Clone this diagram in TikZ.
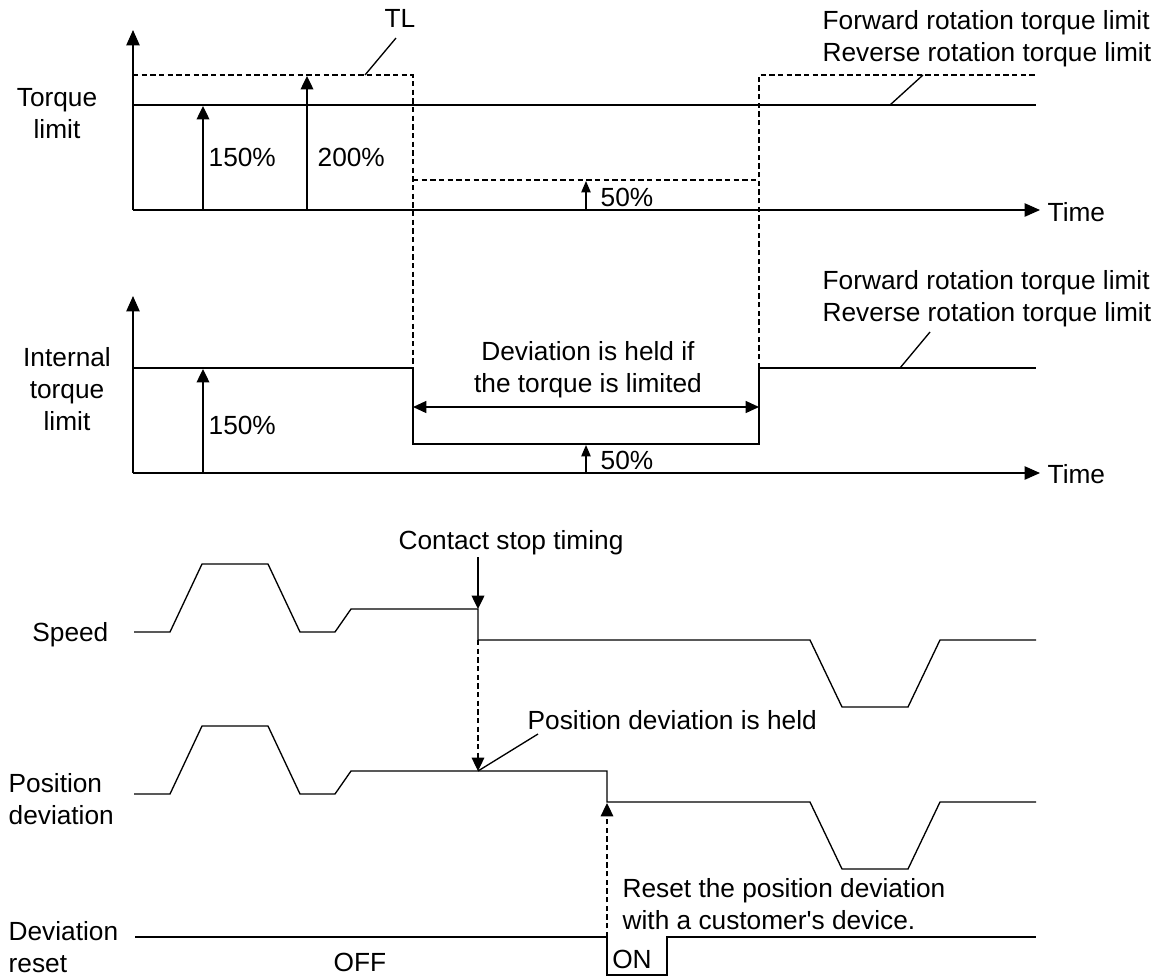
\documentclass[tikz,border=0pt]{standalone}
\usepackage{fontspec}
\newfontfamily\lsans{Liberation Sans}
\usetikzlibrary{arrows.meta}
\begin{document}
\begin{tikzpicture}[x=0.75pt,y=-0.75pt,
  line width=1pt,
  every node/.style={inner sep=0pt, font=\lsans\fontsize{19.7}{24}\selectfont},
  one/.style={text height=0.72em, text depth=0pt, yshift=-3.75pt},
  tip/.style={-{Triangle[length=10pt,width=9.5pt]}},
  axis/.style={-{Triangle[length=11.5pt,width=10pt]}},
  smalltip/.style={-{Triangle[length=8.5pt,width=7pt]}},
  both/.style={{Triangle[length=10pt,width=9pt]}-{Triangle[length=10pt,width=9pt]}},
  dline/.style={dash pattern=on 4pt off 2.5pt, line width=0.8pt},
]
\useasboundingbox (0,0) rectangle (1164,979);

% ---------- panel 1: torque limit ----------
\coordinate (o1) at (133,210);
\coordinate (y1) at (133,30);
\coordinate (x1) at (1040,210);
\draw[axis] (o1) -- (y1);
\draw[axis] (o1) -- (x1);
\node[one, anchor=west] (time1) at (1047,212) {Time};
\node[align=center] (lab1) at (57,114) {Torque\\limit};

\draw (133,105) -- (1036,105);
\draw[dline] (133,75) -- (413,75) -- (413,368);
\draw[dline] (413,180) -- (759,180);
\draw[dline] (759,368) -- (759,75) -- (1036,75);

\draw[tip] (203,210) -- (203,106);
\node[one, anchor=west] (p150a) at (208,157) {150\%};
\draw[tip] (307,210) -- (307,76);
\node[one, anchor=west] (p200) at (317,157) {200\%};
\draw[smalltip] (586,210) -- (586,181);
\node[one, anchor=west] (p50a) at (600,197) {50\%};

\node[one] (tl) at (400,18) {TL};
\coordinate (tlfoot) at (365,75);
\draw (tlfoot) -- (396,38);

\node[align=left, anchor=west] (frt1) at (822,39) {Forward rotation torque limit\\Reverse rotation torque limit};
\coordinate (lead1a) at (890,105);
\coordinate (lead1b) at (923,75);
\draw (lead1a) -- (lead1b);

% ---------- panel 2: internal torque limit ----------
\coordinate (o2) at (133,473);
\coordinate (y2) at (133,296);
\coordinate (x2) at (1040,473);
\draw[axis] (o2) -- (y2);
\draw[axis] (o2) -- (x2);
\node[one, anchor=west] (time2) at (1047,474) {Time};
\node[align=center] (lab2) at (67,389) {Internal\\torque\\limit};

\draw (133,368) -- (413,368) -- (413,444) -- (759,444) -- (759,368) -- (1036,368);
\draw[tip] (203,473) -- (203,369);
\node[one, anchor=west] (p150b) at (208,425) {150\%};
\draw[smalltip] (586,473) -- (586,445);
\node[one, anchor=west] (p50b) at (600,460) {50\%};

\coordinate (hl) at (413,407);
\coordinate (hr) at (759,407);
\draw[both] (hl) -- (hr);
\node[align=center] (held) at (588,370) {Deviation is held if\\the torque is limited};

\node[align=left, anchor=west] (frt2) at (822,299) {Forward rotation torque limit\\Reverse rotation torque limit};
\coordinate (lead2a) at (900,368);
\coordinate (lead2b) at (930,332);
\draw (lead2a) -- (lead2b);

% ---------- speed ----------
\node[one, anchor=east] (speed) at (109,632) {Speed};
\draw (134,632) -- (170,632) -- (202,564) -- (268,564) -- (300,632) -- (335,632)
      -- (351,609) -- (478,609) -- (478,640) -- (810,640) -- (842,707) -- (908,707)
      -- (940,640) -- (1036,640);
\node[one] (contact) at (511,540) {Contact stop timing};
\coordinate (cs) at (478,557);
\coordinate (ce) at (478,609);
\draw[tip] (cs) -- (ce);
\coordinate (sdrop) at (478,640);
\coordinate (phold) at (478,771);
\draw[dline, tip] (sdrop) -- (phold);

% ---------- position deviation ----------
\node[align=left, anchor=west] (poslab) at (8,799) {Position\\deviation};
\draw (134,794) -- (170,794) -- (202,726) -- (268,726) -- (300,794) -- (335,794)
      -- (351,771) -- (607,771) -- (607,802) -- (810,802) -- (842,869) -- (908,869)
      -- (940,802) -- (1036,802);
\node[one, anchor=west] (heldlab) at (527,720) {Position deviation is held};
\coordinate (heldlead) at (538,734);
\draw (phold) -- (heldlead);

% ---------- deviation reset ----------
\node[align=left, anchor=west] (rstlab) at (8,947) {Deviation\\reset};
\draw (135,937) -- (607,937) -- (607,975) -- (667,975) -- (667,937) -- (1036,937);
\node[one] (off) at (360,962) {OFF};
\node[one] (on) at (632,959) {ON};
\coordinate (rs) at (607,937);
\coordinate (re) at (607,803);
\draw[dline, tip] (rs) -- (re);
\node[align=left, anchor=west] (resettxt) at (622,904) {Reset the position deviation\\with a customer's device.};

\end{tikzpicture}
\end{document}
